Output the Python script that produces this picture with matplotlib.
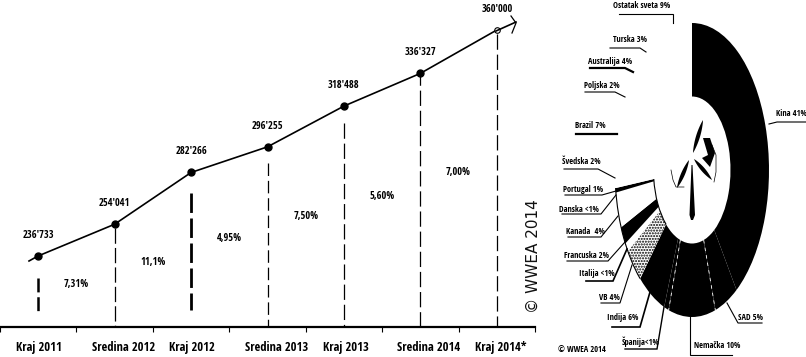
import numpy as np
import matplotlib
matplotlib.use("Agg")
import matplotlib.pyplot as plt
from matplotlib.patches import Arc, Polygon
from matplotlib.transforms import blended_transform_factory

plt.rcParams['font.family'] = ['Open Sans Condensed', 'Roboto Condensed', 'DejaVu Sans']
plt.rcParams['lines.scale_dashes'] = False

# ---- data ----
periods = ["Kraj 2011", "Sredina 2012", "Kraj 2012", "Sredina 2013", "Kraj 2013", "Sredina 2014", "Kraj 2014*"]
capacity = [236733, 254041, 282266, 296255, 318488, 336327, 360000]
capacity_labels = ["236'733", "254'041", "282'266", "296'255", "318'488", "336'327", "360'000"]
growth_labels = ["7,31%", "11,1%", "4,95%", "7,50%", "5,60%", "7,00%"]

countries = ["Kina 41%", "SAD 5%", "Nemačka 10%", "Španija<1%", "Indija 6%", "VB 4%", "Italija <1%",
             "Francuska 2%", "Kanada  4%", "Danska <1%", "Portugal 1%", "Švedska 2%", "Brazil 7%",
             "Poljska 2%", "Australija 4%", "Turska 3%", "Ostatak sveta 9%"]
shares = [41, 5, 10, 1, 6, 4, 1, 2, 3, 1, 0.5, 2, 7, 2, 4, 3, 9.5]

# ---- styles and layout ----
W, H = 806, 357
label_dx = [1, 9, 1, 9, 2, 8, 4]
growth_y = [285, 263, 238, 216, 197, 172]
drop_top = [278, 228, 193, 163, 123, 70, 34]
drop_bottom = [312, 327, 310, 327, 327, 327, 327]
drop_lw = [1.8, 0.9, 2.0, 0.9, 0.9, 0.9, 0.9]
drop_dash = [(10, 3.5), (11, 3), (14, 4), (9, 3.5), (11, 3.5), (11, 3.5), (11, 3.5)]
fills = ['k', 'k', 'k', 'k', 'k', 'w', 'w', 'k', 'w', 'w', 'k', 'w', 'w', 'w', 'w', 'w', 'w']

label_xy = [(791, 114), (750, 317), (717, 346), (641, 342), (623, 318), (609, 298), (597, 273),
            (587, 255), (585, 232), (579, 210), (583, 189), (581, 162), (590, 126),
            (602, 85), (610, 62), (630, 40), (642, 6)]
leaders = [
    [(806, 122), (777, 122), (769, 124)],
    [(762, 323), (738, 323), (727, 303)],
    [(732, 355), (690, 355), (690, 316)],
    [(625, 349), (657, 349), (664, 307)],
    [(612, 327), (640, 327), (650, 292)],
    [(601, 303), (620, 303), (632, 265)],
    [(586, 281), (613, 281), (627, 249)],
    [(567, 261), (608, 261), (625, 242)],
    [(568, 237), (601, 237), (618, 216)],
    [(562, 214), (601, 214), (616, 195)],
    [(565, 195), (602, 195), (616, 191)],
    [(564, 169), (598, 169), (615, 178)],
    [(576, 134), (617, 134)],
    [(585, 92), (615, 92), (625, 97)],
    [(590, 68), (625, 68), (633, 72)],
    [(610, 48), (640, 48), (646, 52)],
    [(619, 14), (673, 14), (673, 23)],
]
leader_lw = [0.8, 0.8, 0.8, 1.0, 1.2, 0.8, 1.2, 0.8, 0.8, 0.8, 0.8, 0.8, 1.6, 0.8, 1.6, 0.8, 0.8]


def px_axes(fig, left, top, right, bottom, **kw):
    return fig.add_axes([left / W, 1 - bottom / H, (right - left) / W, (bottom - top) / H], **kw)


fig = plt.figure(figsize=(W / 100, H / 100), dpi=100, facecolor='white')

# ---- line chart ----
ax = px_axes(fig, 0, 0, 535, 327)
ax.patch.set_alpha(0)
ax.set_xlim(-0.5, 6.5)
ax.set_ylim(197970, 376366)
for s in ('top', 'left', 'right'):
    ax.spines[s].set_visible(False)
ax.spines['bottom'].set_linewidth(1.6)
ax.set_yticks([])
ax.set_xticks(np.arange(len(periods) + 1) - 0.5)
ax.set_xticklabels([])
ax.tick_params(axis='x', length=3.5, width=0.8)

x = np.arange(len(periods))
ax.plot(x, capacity, color='k', lw=1.2, solid_capstyle='round', zorder=3)
ax.plot(x[:-1], capacity[:-1], 'o', color='k', ms=5, zorder=4)
ax.plot(x[-1:], capacity[-1:], 'o', mfc='w', mec='k', mew=0.8, ms=4, zorder=4)

for i, lab in enumerate(capacity_labels):
    ax.annotate(lab, (x[i], capacity[i]), xytext=(0, 15), textcoords='offset points',
                ha='center', va='center', fontsize=7.5, fontweight='bold')
for i, lab in enumerate(periods):
    ax.annotate(lab, (x[i], 0), xycoords=ax.get_xaxis_transform(),
                xytext=(label_dx[i] * 0.72, -14.5), textcoords='offset points',
                ha='center', va='center', fontsize=9, fontweight='bold', annotation_clip=False)

# ---- overlay in pixel coordinates ----
ov = px_axes(fig, 0, 0, W, H)
ov.set_xlim(0, W)
ov.set_ylim(H, 0)
ov.axis('off')
ov.patch.set_alpha(0)
ov.set_zorder(5)

blend = blended_transform_factory(ax.transData, ov.transData)
for i in range(len(periods)):
    ov.plot([x[i], x[i]], [drop_top[i], drop_bottom[i]], transform=blend, color='k',
            lw=drop_lw[i], linestyle=(0, drop_dash[i]), dash_capstyle='butt')
for i, lab in enumerate(growth_labels):
    ov.text(x[i] + 0.5, growth_y[i], lab, transform=blend, ha='center', va='center',
            fontsize=7.5, fontweight='bold')

# line run-in and arrow head at the end
ov.plot([29, 38], [261, 256], color='k', lw=1.2)
ov.plot([496, 516], [31, 22], color='k', lw=1.2)
ov.plot([511, 516, 512], [16, 23, 33], color='k', lw=0.9)

ov.text(533, 256, "© WWEA 2014", rotation=90, ha='center', va='center', fontsize=11,
        family='DejaVu Sans', color='#111111')
ov.text(582, 350, "© WWEA 2014", ha='center', va='center', fontsize=6, fontweight='bold')

# ---- ring ----
pa = px_axes(fig, 615, 23, 769, 317)
wedges, _ = pa.pie(shares, colors=fills, startangle=90, counterclock=False, radius=1,
                   wedgeprops=dict(width=0.5, linewidth=0))
pa.set_aspect('auto')
pa.set_xlim(-1, 1)
pa.set_ylim(-1, 1)
wedges[5].set(facecolor='w', edgecolor='k', hatch='......', linewidth=0)

total = sum(shares)
cum = np.cumsum(shares)
th = lambda k: 90 - 360 * cum[k] / total
t1, t2 = th(10), th(4)
for diam in (2, 1):
    pa.add_patch(Arc((0, 0), diam, diam, theta1=min(t1, t2), theta2=max(t1, t2),
                     color='k', lw=0.8))
for k in (1, 2):
    a = np.radians(th(k))
    pa.plot([0.5 * np.cos(a), np.cos(a)], [0.5 * np.sin(a), np.sin(a)], color='w', lw=0.6,
            linestyle=(0, (2.5, 3)))

# ---- ring labels and leaders ----
for lab, (lx, ly), pts, lw in zip(countries, label_xy, leaders, leader_lw):
    ov.text(lx, ly, lab, ha='center', va='center', fontsize=6, fontweight='bold')
    ov.plot(*zip(*pts), color='k', lw=lw, solid_joinstyle='miter')


# ---- turbine pictogram ----
def lens(p0, p1, w):
    p0, p1 = np.array(p0, float), np.array(p1, float)
    d = p1 - p0
    n = np.array([-d[1], d[0]]) / np.hypot(*d)
    t = np.linspace(0, 1, 15)
    prof = w / 2 * np.sin(np.pi * t) ** 0.8
    mid = p0[None] + t[:, None] * d[None]
    return np.vstack([mid + prof[:, None] * n, (mid - prof[:, None] * n)[::-1]])


for p0, p1, w in [((703, 120), (693, 153), 4), ((689, 160), (677, 188), 4), ((694, 159), (712, 180), 4)]:
    ov.add_patch(Polygon(lens(p0, p1, w), closed=True, fc='k', ec='none'))
ov.add_patch(Polygon([(691.5, 165), (692.5, 165), (695, 215), (693, 220), (691, 220), (689.5, 215)],
                     closed=True, fc='k', ec='none'))
ov.add_patch(Polygon([(703, 138), (710, 138), (715, 153), (710, 167), (702, 158), (708, 155)],
                     closed=True, fc='k', ec='none'))
ov.plot([712, 716, 716, 714], [145, 155, 172, 182], color='k', lw=0.5)
ov.plot([671, 673, 676, 684], [170, 180, 187, 187], color='k', lw=0.5)

fig.savefig("out.png", dpi=100)
